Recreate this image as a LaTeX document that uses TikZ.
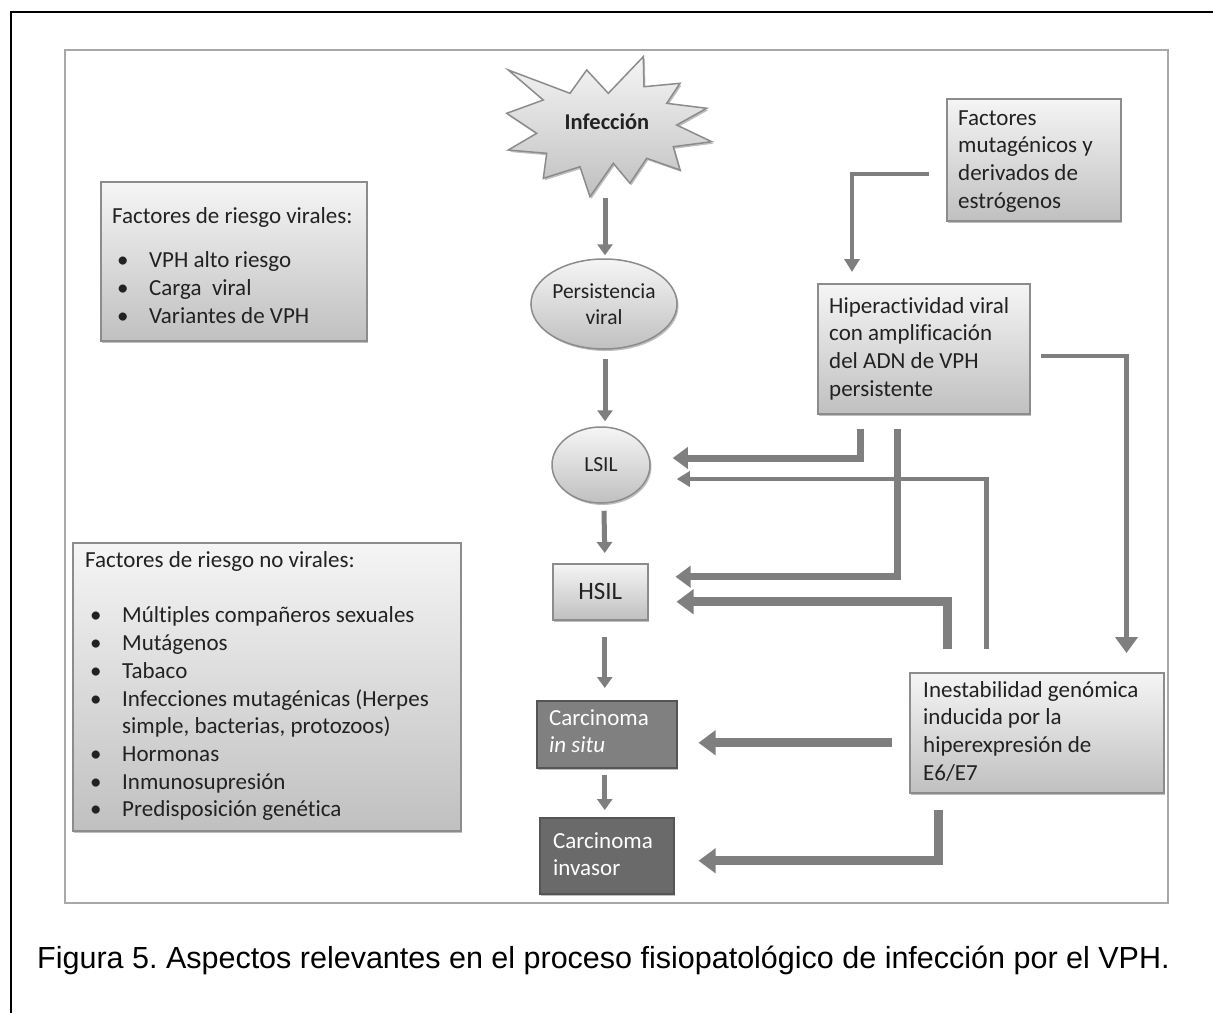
\documentclass[tikz,border=0pt]{standalone}
\usepackage{fontspec}
\setmainfont{Carlito}[Ligatures=NoCommon]
\newfontfamily\capfont{Liberation Sans}
\usetikzlibrary{arrows.meta,shapes.geometric,shadows,calc}
\definecolor{arrgray}{HTML}{7F7F7F}
\definecolor{boxborder}{HTML}{8C8C8C}
\definecolor{boxtop}{HTML}{F5F5F5}
\definecolor{boxbot}{HTML}{C0C0C0}
\definecolor{framegray}{HTML}{A8A8A8}
\definecolor{darkboxa}{HTML}{808080}
\definecolor{darkboxb}{HTML}{6A6A6A}
\definecolor{darkborder}{HTML}{555555}
\definecolor{txtgray}{HTML}{222222}
\frenchspacing
\begin{document}
\begin{tikzpicture}[x=1pt,y=-1pt,
  gshadow/.style={drop shadow={shadow xshift=1.5pt,shadow yshift=-2pt,fill=black,opacity=0.25}},
  gbox/.style={rectangle, draw=boxborder, line width=1.5pt, top color=boxtop, bottom color=boxbot, inner sep=0pt, anchor=north west, gshadow},
  gell/.style={ellipse, draw=boxborder, line width=1.5pt, top color=boxtop, bottom color=boxbot, inner sep=0pt, gshadow, align=center, text=txtgray},
  dbox/.style={rectangle, draw=darkborder, line width=1.5pt, inner sep=0pt, anchor=north west, gshadow},
  txt/.style={inner sep=0pt, align=left, anchor=north west, font=\fontsize{23}{27.7}\selectfont, text=txtgray},
  wtxt/.style={inner sep=0pt, align=left, anchor=north west, font=\fontsize{23}{27.7}\selectfont, text=white},
  mainarr/.style={draw=arrgray, line width=5pt, -{Triangle[width=15pt,length=11pt]}},
  thinarr/.style={draw=arrgray, line width=4.5pt, -{Triangle[width=15pt,length=13pt]}},
  medarr/.style={draw=arrgray, line width=7pt, -{Triangle[width=21pt,length=15pt]}},
  blkarr/.style={draw=arrgray, line width=9pt, -{Triangle[width=24pt,length=17pt]}},
]
\useasboundingbox (0,0) rectangle (1213,1013);
\fill[white] (0,0) rectangle (1213,1013);

% outer frame lines
\draw[line width=1.5pt, black] (11,1013) -- (11,12) -- (1213,12);
% inner frame
\draw[framegray, line width=2pt] (65,50) rectangle (1168,903);

% star
\draw[draw=boxborder, line width=1.5pt, top color=boxtop, bottom color=boxbot, gshadow]
  (508.3,70) -- (570,93.3) -- (586.7,70) -- (608.3,93.3) -- (643.3,56.7) -- (644,86.7)
  -- (680,83.3) -- (666.7,103.3) -- (706.7,108.3) -- (676.7,125) -- (711.7,141.7)
  -- (673.3,146.7) -- (680,170) -- (646.7,158.3) -- (630,183.3) -- (613.3,163.3)
  -- (590,196.7) -- (580,166.7) -- (543.3,178.3) -- (546.7,153.3) -- (508.3,150)
  -- (536.7,133.3) -- (506.7,113.3) -- (543.3,100) -- cycle;
\node[inner sep=0pt, font=\bfseries\fontsize{22.5}{27}\selectfont, text=txtgray] (inf) at (607,122) {Infección};
\coordinate (starbot) at (605,198);

% central column
\node[gell, minimum width=142pt, minimum height=90pt, font=\fontsize{21.5}{26}\selectfont] (pers) at (604,304) {Persistencia\\viral};
\node[gell, minimum width=98pt, minimum height=76pt, font=\fontsize{21.5}{25}\selectfont] (lsil) at (601,465) {LSIL};
\node[gbox, minimum width=95pt, minimum height=56pt] (hsil) at (552,563) {};
\node[inner sep=0pt, font=\fontsize{25}{30}\selectfont, text=txtgray] (hsilt) at (hsil.center) {HSIL};
\node[dbox, fill=darkboxa, minimum width=140pt, minimum height=67pt] (cis) at (536,700) {};
\node[wtxt] (cist) at (549,705) {\rule{0pt}{20pt}Carcinoma\\\textit{in situ}};
\node[dbox, fill=darkboxb, minimum width=134pt, minimum height=76pt] (inv) at (539,817) {};
\node[wtxt] (invt) at (553,828) {\rule{0pt}{20pt}Carcinoma\\invasor};

% left boxes
\node[gbox, minimum width=266pt, minimum height=159pt] (viral) at (100,181) {};
\node[txt] (viralt) at (112,203) {\rule{0pt}{20pt}Factores de riesgo virales:\\[17pt]
\makebox[37pt][l]{\hspace{5pt}\textbullet}VPH alto riesgo\\
\makebox[37pt][l]{\hspace{5pt}\textbullet}Carga\ \ viral\\
\makebox[37pt][l]{\hspace{5pt}\textbullet}Variantes de VPH};

\node[gbox, minimum width=388pt, minimum height=288pt] (nonviral) at (72,542) {};
\node[txt] (nonviralt) at (85,547) {\rule{0pt}{20pt}Factores de riesgo no virales:\\[28pt]
\makebox[37pt][l]{\hspace{5pt}\textbullet}Múltiples compañeros sexuales\\
\makebox[37pt][l]{\hspace{5pt}\textbullet}Mutágenos\\
\makebox[37pt][l]{\hspace{5pt}\textbullet}Tabaco\\
\makebox[37pt][l]{\hspace{5pt}\textbullet}Infecciones mutagénicas (Herpes\\
\hspace*{37pt}simple, bacterias, protozoos)\\
\makebox[37pt][l]{\hspace{5pt}\textbullet}Hormonas\\
\makebox[37pt][l]{\hspace{5pt}\textbullet}Inmunosupresión\\
\makebox[37pt][l]{\hspace{5pt}\textbullet}Predisposición genética};

% right boxes
\node[gbox, minimum width=174pt, minimum height=122pt] (fac) at (946,98) {};
\node[txt] (fact) at (958,105) {\rule{0pt}{20pt}Factores\\mutagénicos y\\derivados de\\estrógenos};
\node[gbox, minimum width=212pt, minimum height=130pt] (hiper) at (817,283) {};
\node[txt] (hipert) at (829,293) {\rule{0pt}{20pt}Hiperactividad viral\\con amplificación\\del ADN de VPH\\persistente};
\node[gbox, minimum width=254pt, minimum height=120pt] (inest) at (909,672) {};
\node[txt] (inestt) at (923,677) {\rule{0pt}{20pt}Inestabilidad genómica\\inducida por la\\hiperexpresión de\\E6/E7};

% main vertical arrows
\draw[mainarr] (starbot) -- ($(starbot |- pers.north)+(0,-3)$);
\draw[mainarr] ($(pers.south)+(1,9)$) -- ($(lsil.north)+(4,-5)$);
\draw[mainarr] ($(lsil.south)+(3,7)$) -- ($(hsil.north)+(4.5,-10)$);
\draw[mainarr] ($(hsil.south)+(4.5,16)$) -- ($(cis.north)+(-2,-12)$);
\draw[mainarr] ($(cis.south)+(-2,6)$) -- ($(inv.north)+(-2,-7)$);

% right side arrows
\draw[thinarr] ($(fac.west)+(-17,14)$) -| ($(hiper.north west)+(35,-11)$);
\draw[thinarr, -{Triangle[width=22pt,length=16pt]}] ($(hiper.east)+(10,7)$) -| ($(inest.north east)+(-38,-19)$);
\draw[medarr] ($(hiper.south west)+(43,14)$) |- ($(lsil.east)+(22,-7)$);
\draw[thinarr] ($(inest.north west)+(77.5,-23)$) |- ($(lsil.east)+(26,14)$);
\draw[medarr] ($(hiper.south west)+(80,14)$) |- ($(hsil.east)+(27,-15)$);
\draw[blkarr] ($(inest.north west)+(38,-23)$) |- ($(hsil.east)+(28,10)$);
\draw[blkarr] ($(inest.west)+(-17,10)$) -- ($(cis.east)+(21,8.5)$);
\draw[blkarr] ($(inest.south west)+(29,16)$) |- ($(inv.east)+(24,5)$);

% caption
\node[inner sep=0pt, anchor=base west, font=\capfont\fontsize{30.5}{36}\selectfont, text=black] (cap) at (37,968) {Figura 5. Aspectos relevantes en el proceso fisiopatológico de infección por el VPH.};
\end{tikzpicture}
\end{document}
